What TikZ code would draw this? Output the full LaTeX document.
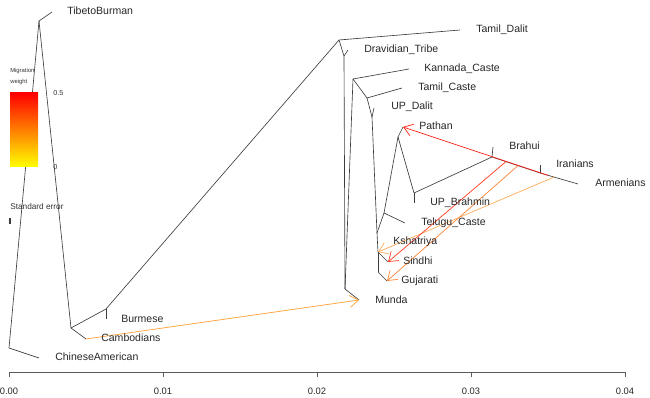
\documentclass[tikz,border=0pt]{standalone}
\usepackage{fontspec}
\setmainfont{Liberation Sans}
\usepackage{tikz}
\usetikzlibrary{arrows.meta, positioning, calc}

\definecolor{TreeGray}{RGB}{60,60,60}
\definecolor{AxisGray}{RGB}{90,90,90}
\definecolor{MigRed}{RGB}{255,35,20}
\definecolor{MigScarlet}{RGB}{255,65,35}
\definecolor{MigOrange}{RGB}{255,135,60}
\definecolor{MigPeach}{RGB}{255,175,95}
\definecolor{MigAmber}{RGB}{255,165,60}

\tikzset{
  branch/.style={draw=TreeGray, line width=0.48pt},
  mig/.style={-{Straight Barb[length=6.5pt, width=9pt]}, line width=0.55pt},
  pop/.style={anchor=west, inner sep=0pt, text height=6pt, text depth=1.5pt,
    font=\fontsize{7.9}{9}\selectfont, text=black!85},
  legtxt/.style={anchor=west, inner sep=0pt, text=black!80},
  ticklbl/.style={inner sep=0pt, font=\fontsize{7}{8}\selectfont, text=black!85},
  axisline/.style={draw=AxisGray, line width=0.5pt}
}

\begin{document}
\begin{tikzpicture}[x=0.75pt, y=-0.75pt]
  \useasboundingbox (0,0) rectangle (650,398);

  % inner nodes of the tree
  \coordinate (root) at (9,348);
  \coordinate (n1) at (39,21);
  \coordinate (n2) at (71,328);
  \coordinate (n3) at (106,309);
  \coordinate (n4) at (339,40);
  \coordinate (n5) at (344,56);
  \coordinate (n6) at (345,289);
  \coordinate (n7) at (353,79);
  \coordinate (n8) at (367,98);
  \coordinate (n9) at (372,117);
  \coordinate (n10) at (377,233);
  \coordinate (n11) at (384,213);
  \coordinate (n12) at (398,137);
  \coordinate (n13) at (414,193);
  \coordinate (n14) at (492,157);
  \coordinate (n15) at (540,173);
  \coordinate (n16) at (378,252);
  \coordinate (n17) at (378,272);

  % leaves
  \coordinate (ChineseAmerican) at (39,358);
  \coordinate (TibetoBurman) at (52,12);
  \coordinate (Cambodians) at (86,339);
  \coordinate (Burmese) at (106,319);
  \coordinate (TamilDalit) at (460,30);
  \coordinate (DravidianTribe) at (348,50);
  \coordinate (Munda) at (359,300);
  \coordinate (KannadaCaste) at (409,69);
  \coordinate (TamilCaste) at (402,88);
  \coordinate (UPDalit) at (374,108);
  \coordinate (TeluguCaste) at (405,223);
  \coordinate (Pathan) at (403,127);
  \coordinate (UPBrahmin) at (414,203);
  \coordinate (Brahui) at (493,147);
  \coordinate (Iranians) at (540,165);
  \coordinate (Armenians) at (578,184);
  \coordinate (Sindhi) at (388,262);
  \coordinate (Gujarati) at (387,281);

  % branches
  \draw[branch] (root) -- (ChineseAmerican);
  \draw[branch] (root) -- (n1);
  \draw[branch] (n1) -- (TibetoBurman);
  \draw[branch] (n1) -- (n2);
  \draw[branch] (n2) -- (Cambodians);
  \draw[branch] (n2) -- (n3);
  \draw[branch] (n3) -- (Burmese);
  \draw[branch] (n3) -- (n4);
  \draw[branch] (n4) -- (TamilDalit);
  \draw[branch] (n4) -- (n5);
  \draw[branch] (n5) -- (DravidianTribe);
  \draw[branch] (n5) -- (n6);
  \draw[branch] (n6) -- (Munda);
  \draw[branch] (n6) -- (n7);
  \draw[branch] (n7) -- (KannadaCaste);
  \draw[branch] (n7) -- (n8);
  \draw[branch] (n8) -- (TamilCaste);
  \draw[branch] (n8) -- (n9);
  \draw[branch] (n9) -- (UPDalit);
  \draw[branch] (n9) -- (n10);
  \draw[branch] (n10) -- (n11);
  \draw[branch] (n11) -- (TeluguCaste);
  \draw[branch] (n11) -- (n12);
  \draw[branch] (n12) -- (Pathan);
  \draw[branch] (n12) -- (n13);
  \draw[branch] (n13) -- (UPBrahmin);
  \draw[branch] (n13) -- (n14);
  \draw[branch] (n14) -- (Brahui);
  \draw[branch] (n14) -- (n15);
  \draw[branch] (n15) -- (Iranians);
  \draw[branch] (n15) -- (Armenians);
  \draw[branch] (n10) -- (n16);
  \draw[branch] (n16) -- (Sindhi);
  \draw[branch] (n16) -- (n17);
  \draw[branch] (n17) -- (Gujarati);

  % migration edges
  \coordinate (m1) at ($(n15)!0.21!(Armenians)$);
  \coordinate (m2) at ($(n14)!0.29!(n15)$);
  \coordinate (m3) at ($(n14)!0.54!(n15)$);
  \coordinate (m4) at ($(n15)!0.37!(Armenians)$);
  \draw[mig, MigPeach] (m4) -- (n16);
  \draw[mig, MigOrange] (m3) -- (Gujarati);
  \draw[mig, MigScarlet] (m2) -- (Sindhi);
  \draw[mig, MigRed] (m1) -- (Pathan);
  \draw[mig, MigAmber] (Cambodians) -- (Munda);

  % population labels
  \node[pop] (lTibetoBurman) at (67,12) {TibetoBurman};
  \node[pop] (lChineseAmerican) at (55,358) {ChineseAmerican};
  \node[pop] (lBurmese) at (121,320) {Burmese};
  \node[pop] (lCambodians) at (101,339) {Cambodians};
  \node[pop] (lTamilDalit) at (476,30) {Tamil\_Dalit};
  \node[pop] (lDravidianTribe) at (364,50) {Dravidian\_Tribe};
  \node[pop] (lKannadaCaste) at (424,69) {Kannada\_Caste};
  \node[pop] (lTamilCaste) at (418,88) {Tamil\_Caste};
  \node[pop] (lUPDalit) at (391,107) {UP\_Dalit};
  \node[pop] (lPathan) at (419,127) {Pathan};
  \node[pop] (lBrahui) at (509,147) {Brahui};
  \node[pop] (lIranians) at (556,165) {Iranians};
  \node[pop] (lArmenians) at (595,184) {Armenians};
  \node[pop] (lUPBrahmin) at (430,203) {UP\_Brahmin};
  \node[pop] (lTeluguCaste) at (421,223) {Telugu\_Caste};
  \node[pop] (lKshatriya) at (393,242) {Kshatriya};
  \node[pop] (lSindhi) at (403,262) {Sindhi};
  \node[pop] (lGujarati) at (401,281) {Gujarati};
  \node[pop] (lMunda) at (375,301) {Munda};

  % legend
  \node[legtxt, font=\fontsize{4.4}{5}\selectfont] (legMig) at (10,71) {Migration};
  \node[legtxt, font=\fontsize{4.4}{5}\selectfont] (legWeight) at (10,82) {weight};
  \shade[top color=red, bottom color=yellow] (10,93) rectangle (38,167);
  \node[legtxt, font=\fontsize{5.4}{6}\selectfont] (legHi) at (53,93) {0.5};
  \node[legtxt, font=\fontsize{5.4}{6}\selectfont] (legLo) at (53,167) {0};
  \node[legtxt, font=\fontsize{6.2}{7}\selectfont] (legSE) at (10,207) {Standard error};
  \coordinate (se1) at (10,218);
  \coordinate (se2) at (10,224);
  \draw[draw=TreeGray, line width=0.9pt] (se1) -- (se2);

  % drift axis
  \foreach \i/\lbl in {0/0.00,1/0.01,2/0.02,3/0.03,4/0.04}{
    \coordinate (tk\i) at ({9+154*\i},372);
    \draw[axisline] (tk\i) -- ++(0,5);
    \node[ticklbl] (tl\i) at ({9+154*\i},391) {\lbl};
  }
  \draw[axisline] (tk0) -- (tk4);
\end{tikzpicture}
\end{document}
